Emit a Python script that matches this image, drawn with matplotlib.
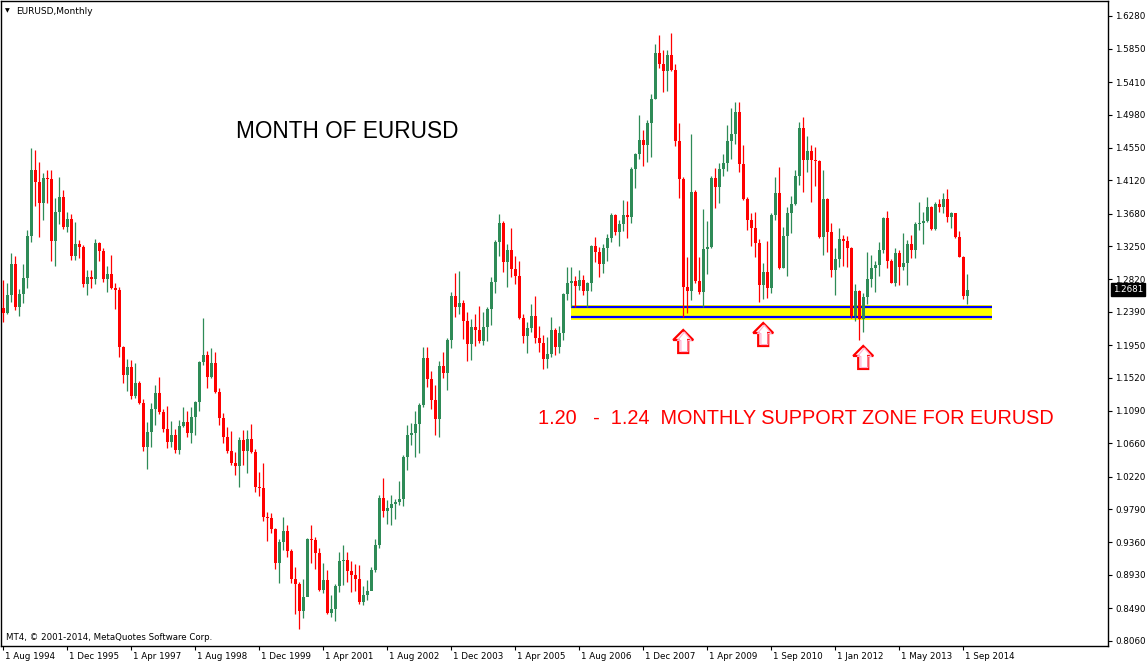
import matplotlib
matplotlib.use('Agg')
import matplotlib.pyplot as plt
import matplotlib.transforms as mtransforms
from matplotlib.patches import Polygon, Rectangle

W, H = 1148, 663

# monthly EURUSD bars, Aug 1994 .. Oct 2014 (open of each bar = previous close)
first_open = 1.2436
closes = [
    1.2370, 1.2611, 1.3019, 1.2458, 1.2624, 1.2835, 1.3387, 1.4255, 1.4101, 1.3825,
    1.4150, 1.4141, 1.3325, 1.3703, 1.3900, 1.3510, 1.3610, 1.3128, 1.3282, 1.3247,
    1.2760, 1.2848, 1.2826, 1.3295, 1.3194, 1.2826, 1.2887, 1.2707, 1.2681, 1.1931,
    1.1563, 1.1664, 1.1287, 1.1454, 1.1195, 1.0616, 1.0809, 1.1112, 1.1322, 1.1072,
    1.0852, 1.0681, 1.0769, 1.0572, 1.0887, 1.0936, 1.0800, 1.1001, 1.1207, 1.1729,
    1.1821, 1.1536, 1.1720, 1.1339, 1.0997, 1.0747, 1.0563, 1.0405, 1.0366, 1.0703,
    1.0563, 1.0716, 1.0541, 1.0081, 1.0072, 0.9686, 0.9673, 0.9537, 0.9090, 0.9362,
    0.9502, 0.9248, 0.8871, 0.8809, 0.8459, 0.8643, 0.9401, 0.9388, 0.9222, 0.8730,
    0.8862, 0.8424, 0.8476, 0.8783, 0.9112, 0.9125, 0.8985, 0.8928, 0.8875, 0.8577,
    0.8665, 0.8718, 0.8994, 0.9323, 0.9945, 0.9774, 0.9809, 0.9862, 0.9892, 0.9927,
    1.0484, 1.0769, 1.0791, 1.0914, 1.1168, 1.1782, 1.1506, 1.1230, 1.0984, 1.1677,
    1.1580, 1.2019, 1.2597, 1.2457, 1.2501, 1.2273, 1.1966, 1.2190, 1.2150, 1.2006,
    1.2190, 1.2431, 1.2782, 1.3308, 1.3553, 1.3049, 1.3202, 1.2948, 1.2864, 1.2312,
    1.2075, 1.2172, 1.2334, 1.2049, 1.1975, 1.1768, 1.1834, 1.2150, 1.1931, 1.2115,
    1.2623, 1.2764, 1.2794, 1.2733, 1.2808, 1.2667, 1.2764, 1.3255, 1.3180, 1.3018,
    1.3228, 1.3360, 1.3662, 1.3443, 1.3544, 1.3658, 1.3632, 1.4267, 1.4465, 1.4649,
    1.4583, 1.4877, 1.5188, 1.5797, 1.5644, 1.5561, 1.5762, 1.5569, 1.4640, 1.4131,
    1.2720, 1.2667, 1.3969, 1.2794, 1.2654, 1.3215, 1.3246, 1.4153, 1.4035, 1.4267,
    1.4351, 1.4636, 1.4728, 1.5013, 1.4329, 1.3873, 1.3597, 1.3496, 1.3290, 1.2742,
    1.2908, 1.2698, 1.3662, 1.3956, 1.2970, 1.3386, 1.3693, 1.3807, 1.4175, 1.4811,
    1.4386, 1.4504, 1.4386, 1.4373, 1.3378, 1.3869, 1.3443, 1.2939, 1.3084, 1.3342,
    1.3320, 1.3233, 1.2334, 1.2663, 1.2290, 1.2580, 1.2816, 1.2961, 1.3005, 1.3202,
    1.3627, 1.3057, 1.2773, 1.3158, 1.2983, 1.3036, 1.3281, 1.3202, 1.3544, 1.3562,
    1.3588, 1.3772, 1.3474, 1.3807, 1.3772, 1.3873, 1.3632, 1.3684, 1.3378, 1.3114,
    1.2597, 1.2681,
]
highs = [
    1.2808, 1.2764, 1.3163, 1.3124, 1.2685, 1.3019, 1.3466, 1.4544, 1.4518, 1.4360,
    1.4215, 1.4251, 1.4251, 1.3887, 1.4163, 1.3992, 1.3703, 1.3676, 1.3571, 1.3334,
    1.3268, 1.2940, 1.2940, 1.3347, 1.3308, 1.3229, 1.2992, 1.3137, 1.2773, 1.2716,
    1.1940, 1.1769, 1.1756, 1.1717, 1.1480, 1.1243, 1.0941, 1.1191, 1.1423, 1.1532,
    1.1111, 1.1150, 1.0958, 1.0848, 1.0966, 1.1133, 1.1080, 1.1133, 1.1221, 1.1742,
    1.2308, 1.1874, 1.1909, 1.1865, 1.1383, 1.1054, 1.0870, 1.0822, 1.0541, 1.0738,
    1.0835, 1.0835, 1.0914, 1.0585, 1.0278, 1.0396, 0.9761, 0.9739, 0.9546, 0.9397,
    0.9695, 0.9581, 0.9274, 0.9037, 0.8840, 0.8871, 0.9419, 0.9585, 0.9423, 0.9279,
    0.9081, 0.8993, 0.8665, 0.8810, 0.9231, 0.9323, 0.9226, 0.9112, 0.9073, 0.9060,
    0.8783, 0.8862, 0.9038, 0.9401, 0.9980, 1.0208, 0.9914, 0.9980, 0.9927, 1.0164,
    1.0506, 1.0901, 1.0923, 1.1085, 1.1195, 1.1927, 1.1927, 1.1611, 1.1427, 1.1738,
    1.1857, 1.2041, 1.2646, 1.2904, 1.2926, 1.2545, 1.2383, 1.2295, 1.2361, 1.2466,
    1.2387, 1.2448, 1.2843, 1.3334, 1.3676, 1.3583, 1.3281, 1.3487, 1.3123, 1.3062,
    1.2360, 1.2259, 1.2492, 1.2597, 1.2202, 1.2084, 1.2062, 1.2325, 1.2172, 1.2202,
    1.2632, 1.2974, 1.2983, 1.2860, 1.2939, 1.2873, 1.2786, 1.3268, 1.3378, 1.3246,
    1.3281, 1.3413, 1.3693, 1.3676, 1.3597, 1.3860, 1.3847, 1.4289, 1.4482, 1.4978,
    1.4780, 1.4912, 1.5254, 1.5911, 1.6034, 1.5832, 1.5832, 1.6052, 1.5644, 1.4868,
    1.4167, 1.3106, 1.4728, 1.3991, 1.3106, 1.3741, 1.3584, 1.4175, 1.4276, 1.4351,
    1.4460, 1.4846, 1.5074, 1.5153, 1.5153, 1.4583, 1.3903, 1.3693, 1.3706, 1.3347,
    1.3027, 1.3325, 1.3684, 1.4167, 1.4298, 1.3509, 1.3763, 1.3912, 1.4254, 1.4890,
    1.4956, 1.4701, 1.4583, 1.4553, 1.4386, 1.4254, 1.3882, 1.3553, 1.3224, 1.3496,
    1.3399, 1.3386, 1.3242, 1.2755, 1.2676, 1.2632, 1.3171, 1.3136, 1.3062, 1.3303,
    1.3640, 1.3715, 1.3088, 1.3224, 1.3202, 1.3421, 1.3334, 1.3399, 1.3575, 1.3838,
    1.3698, 1.3904, 1.3781, 1.3829, 1.3873, 1.3956, 1.4000, 1.3702, 1.3693, 1.3452,
    1.3123, 1.2886,
]
lows = [
    1.2260, 1.2357, 1.2523, 1.2414, 1.2339, 1.2501, 1.2707, 1.3312, 1.3786, 1.3378,
    1.3602, 1.3825, 1.3062, 1.2997, 1.3549, 1.3483, 1.3444, 1.3076, 1.3076, 1.3102,
    1.2721, 1.2615, 1.2707, 1.2760, 1.3062, 1.2786, 1.2655, 1.2694, 1.2431, 1.1800,
    1.1458, 1.1353, 1.1239, 1.1261, 1.1182, 1.0564, 1.0323, 1.0616, 1.0906, 1.1046,
    1.0813, 1.0594, 1.0616, 1.0537, 1.0519, 1.0870, 1.0747, 1.0659, 1.0773, 1.1089,
    1.1690, 1.1392, 1.1523, 1.1326, 1.0901, 1.0668, 1.0537, 1.0374, 1.0243, 1.0090,
    1.0374, 1.0274, 1.0528, 1.0019, 0.9971, 0.9642, 0.9379, 0.9476, 0.9011, 0.8827,
    0.9257, 0.9169, 0.8818, 0.8415, 0.8213, 0.8358, 0.8687, 0.9090, 0.9002, 0.8717,
    0.8687, 0.8415, 0.8380, 0.8327, 0.8709, 0.8796, 0.8840, 0.8709, 0.8722, 0.8547,
    0.8533, 0.8599, 0.8820, 0.8972, 0.9287, 0.9695, 0.9599, 0.9586, 0.9665, 0.9849,
    0.9840, 1.0309, 1.0638, 1.0484, 1.0537, 1.1142, 1.1396, 1.1107, 1.0769, 1.0747,
    1.1523, 1.1361, 1.1918, 1.2326, 1.2365, 1.2036, 1.1747, 1.1756, 1.1944, 1.1975,
    1.1953, 1.2010, 1.2216, 1.2641, 1.3124, 1.2917, 1.2720, 1.2851, 1.2755, 1.2290,
    1.1975, 1.1852, 1.2119, 1.1975, 1.1865, 1.1633, 1.1654, 1.1790, 1.1817, 1.1843,
    1.2018, 1.2544, 1.2457, 1.2448, 1.2676, 1.2610, 1.2457, 1.2667, 1.3040, 1.2851,
    1.2904, 1.3062, 1.3312, 1.3400, 1.3259, 1.3456, 1.3355, 1.3553, 1.4013, 1.4403,
    1.4311, 1.4364, 1.4430, 1.5184, 1.5600, 1.5284, 1.5298, 1.5561, 1.4570, 1.3882,
    1.2325, 1.2378, 1.2545, 1.2764, 1.2623, 1.2457, 1.2886, 1.3224, 1.3750, 1.3825,
    1.4180, 1.4245, 1.4394, 1.4597, 1.4232, 1.3860, 1.3465, 1.3255, 1.3106, 1.2523,
    1.2560, 1.2575, 1.2632, 1.3597, 1.2948, 1.2961, 1.2860, 1.3421, 1.3794, 1.4057,
    1.3969, 1.4232, 1.3838, 1.4044, 1.3356, 1.3136, 1.3180, 1.2851, 1.2610, 1.2974,
    1.2992, 1.2983, 1.2303, 1.2273, 1.2018, 1.2128, 1.2492, 1.2720, 1.2654, 1.2860,
    1.3167, 1.2961, 1.2764, 1.2733, 1.2742, 1.2939, 1.2742, 1.3092, 1.3101, 1.3465,
    1.3281, 1.3575, 1.3465, 1.3465, 1.3706, 1.3693, 1.3575, 1.3496, 1.3364, 1.3106,
    1.2558, 1.2492,
]

date_labels = ['1 Aug 1994', '1 Dec 1995', '1 Apr 1997', '1 Aug 1998', '1 Dec 1999',
               '1 Apr 2001', '1 Aug 2002', '1 Dec 2003', '1 Apr 2005', '1 Aug 2006',
               '1 Dec 2007', '1 Apr 2009', '1 Sep 2010', '1 Jan 2012', '1 May 2013',
               '1 Sep 2014']
label_step = 16
price_ticks = [1.6280, 1.5850, 1.5410, 1.4980, 1.4550, 1.4120, 1.3680, 1.3250, 1.2820,
               1.2390, 1.1950, 1.1520, 1.1090, 1.0660, 1.0220, 0.9790, 0.9360, 0.8930,
               0.8490, 0.8060]

zone_bars = (141.9, 247.1)
zone_band = (1.2282, 1.2473)
zone_lines = (1.2315, 1.2457)
arrow_bars = [170, 190, 215]
arrow_tips = [1.2150, 1.2242, 1.1940]

bull = '#2E8B57'
bear = '#FF0000'

opens = [first_open] + closes[:-1]

fig = plt.figure(figsize=(W / 100, H / 100), dpi=100)
fig.patch.set_facecolor('white')
ax = fig.add_axes([1 / W, 17 / H, 1107 / W, 645 / H])
xmin, xmax = -0.55, 276.2
ymin, ymax = 0.7994, 1.6477
ax.set_xlim(xmin, xmax)
ax.set_ylim(ymin, ymax)
ux = (xmax - xmin) / 1107
uy = (ymax - ymin) / 645

# support zone
ax.add_patch(Rectangle((zone_bars[0], zone_band[0]), zone_bars[1] - zone_bars[0],
                       zone_band[1] - zone_band[0], facecolor='#FFFF00', edgecolor='none', zorder=1))
for lvl in zone_lines:
    ax.plot(zone_bars, [lvl, lvl], color='#0000FF', lw=1.6, solid_capstyle='butt', zorder=2)

# candles
for i, (o, h, l, c) in enumerate(zip(opens, highs, lows, closes)):
    col = bull if c >= o else bear
    ax.vlines(i, l, h, color=col, lw=0.9, zorder=3)
    body = max(abs(c - o), uy)
    ax.bar(i, body, bottom=min(o, c), width=0.8, color=col, lw=0, zorder=4)

# hollow arrows under the tested lows
shape = [(0, 0), (10, 10), (5, 10), (5, 23), (-5, 23), (-5, 10), (-10, 10)]
for b, tip in zip(arrow_bars, arrow_tips):
    pts = [(b + dx * ux, tip - dy * uy) for dx, dy in shape]
    ax.add_patch(Polygon(pts, closed=True, facecolor='white', edgecolor='#FF0000', lw=1.6, zorder=5))
    inner = [(b + dx * 0.7 * ux + 1.2 * ux, tip - (2 + dy * 0.85) * uy) for dx, dy in shape]
    ax.add_patch(Polygon(inner, closed=True, facecolor='none', edgecolor='#FFB0D0', lw=0.8, zorder=5))

for s in ax.spines.values():
    s.set_color('black')
    s.set_linewidth(1)

ax.yaxis.tick_right()
ax.set_yticks(price_ticks)
ax.set_yticklabels(['%.4f' % p for p in price_ticks])
ax.tick_params(axis='y', direction='out', length=3, width=0.8, pad=2, labelsize=6.3)

ax.set_xticks(range(0, len(date_labels) * label_step, label_step))
ax.set_xticklabels(date_labels)
ax.tick_params(axis='x', direction='out', length=3, width=0.8, pad=1.5, labelsize=6.3)
shift = mtransforms.ScaledTranslation(1.5 / 72, 0, fig.dpi_scale_trans)
for lab in ax.get_xticklabels():
    lab.set_horizontalalignment('left')
    lab.set_transform(lab.get_transform() + shift)

# last price tag
blend = mtransforms.blended_transform_factory(ax.transAxes, ax.transData)
ax.text(1.0045, closes[-1], '%.4f' % closes[-1], transform=blend, color='white', fontsize=6.3,
        va='center', ha='left', bbox=dict(facecolor='black', edgecolor='black', pad=1.2), zorder=10,
        clip_on=False)

def px(x, y):
    return x / W, 1 - y / H

fig.text(*px(5, 11), '\u25BC', fontsize=4.5, va='center', ha='left')
fig.text(*px(16, 11), 'EURUSD,Monthly', fontsize=6.5, va='center', ha='left')
fig.text(*px(6, 637), 'MT4, \u00A9 2001-2014, MetaQuotes Software Corp.', fontsize=6.2,
         va='center', ha='left')

fig.text(*px(236, 131), 'MONTH OF EURUSD', fontsize=16.3, family='Liberation Sans',
         va='center', ha='left')
fig.text(*px(538, 418), '1.20   -  1.24  MONTHLY SUPPORT ZONE FOR EURUSD', fontsize=14.3,
         family='Liberation Sans', color='#FF0000', va='center', ha='left')

fig.savefig('out.png', dpi=100, facecolor='white')
